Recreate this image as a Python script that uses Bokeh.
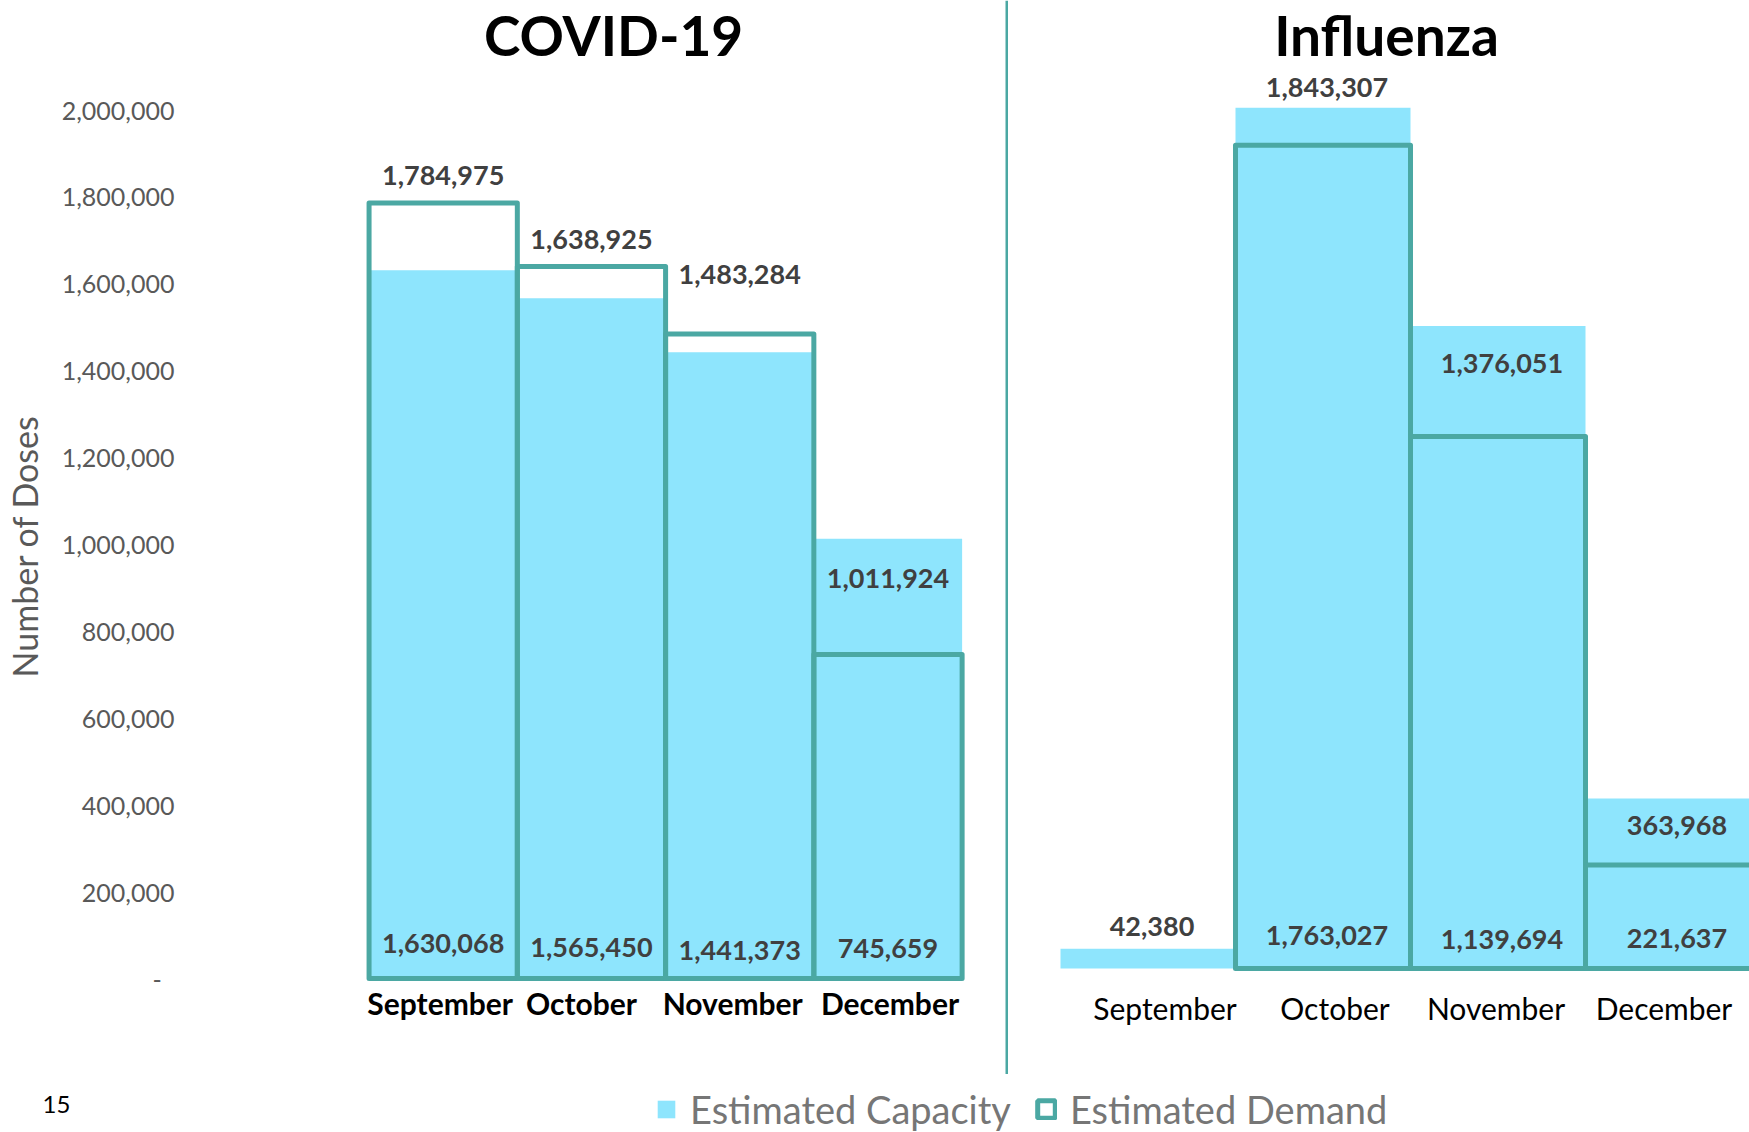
import numpy as np
from bokeh.plotting import figure
from bokeh.models import (Range1d, FixedTicker, NumeralTickFormatter, Span,
                          ColumnDataSource, Legend, LegendItem)
from bokeh.layouts import column, row
from bokeh.embed import file_html
from bokeh.resources import INLINE
from bokeh.core.properties import value

# ---------------- data ----------------
months = ["September", "October", "November", "December"]
covid_capacity = [1630068, 1565450, 1441373, 1011924]
covid_demand = [1784975, 1638925, 1483284, 745659]
flu_capacity = [42380, 1843307, 1376051, 363968]
flu_demand = [None, 1763027, 1139694, 221637]
y_ticks = [0, 200000, 400000, 600000, 800000, 1000000,
           1200000, 1400000, 1600000, 1800000, 2000000]
panel_titles = ["COVID-19", "Influenza"]
y_axis_title = "Number of Doses"
legend_labels = ["Estimated Capacity", "Estimated Demand"]
slide_number = "15"

# ---------------- style ----------------
FONT = "Lato"
FILL = "#8EE5FD"
TEAL = "#4BA8A3"
VAL_TXT = "#404040"
AX_TXT = "#595959"
LEG_TXT = "#767676"

H_TOP = 1074   # height of the two chart panels
H_LEG = 58     # legend strip


def top_bottom(cap, dem):
    cap = np.array(cap, dtype=float)
    dem = np.array(dem, dtype=float)
    top, bot = [], []
    for c, d in zip(cap, dem):
        vals = [v for v in (c, d) if not np.isnan(v)]
        top.append(max(vals))
        bot.append(min(vals) if len(vals) > 1 else np.nan)
    return np.array(top), np.array(bot)


def draw_panel(p, cap, dem, title, title_dx, top_off, bot_off, month_dy,
               month_dx, month_style, month_size, label_dx):
    xs = list(range(len(months)))
    left = [x - 0.5 for x in xs]
    right = [x + 0.5 for x in xs]
    capv = np.array(cap, dtype=float)
    demv = np.array(dem, dtype=float)
    p.quad(left=left, right=right, bottom=0, top=capv,
           fill_color=FILL, line_color=None)
    p.quad(left=left, right=right, bottom=0, top=demv,
           fill_color=None, line_color=TEAL, line_width=5, line_join="round")

    top, bot = top_bottom(cap, dem)
    src_top = ColumnDataSource(dict(x=xs, y=top, t=[f"{int(v):,}" for v in top],
                                    off=top_off))
    p.text(x="x", y="y", text="t", y_offset="off", x_offset=label_dx,
           source=src_top,
           text_font=value(FONT), text_font_style="bold", text_font_size="27px",
           text_color=VAL_TXT, text_align="center", text_baseline="middle")
    bx = [x for x, v in zip(xs, bot) if not np.isnan(v)]
    bo = [o for o, v in zip(bot_off, bot) if not np.isnan(v)]
    bv = [v for v in bot if not np.isnan(v)]
    src_bot = ColumnDataSource(dict(x=bx, y=[0] * len(bx),
                                    t=[f"{int(v):,}" for v in bv], off=bo))
    p.text(x="x", y="y", text="t", y_offset="off", x_offset=label_dx,
           source=src_bot,
           text_font=value(FONT), text_font_style="bold", text_font_size="27px",
           text_color=VAL_TXT, text_align="center", text_baseline="middle")

    src_m = ColumnDataSource(dict(x=xs, y=[0] * len(xs), t=months, dx=month_dx))
    p.text(x="x", y="y", text="t", x_offset="dx", y_offset=month_dy,
           source=src_m,
           text_font=value(FONT), text_font_style=month_style,
           text_font_size=month_size, text_color="black",
           text_align="center", text_baseline="middle")

    p.text(x=[(len(xs) - 1) / 2], y=[p.y_range.end], text=[title],
           x_offset=title_dx, y_offset=34,
           text_font=value(FONT), text_font_style="bold", text_font_size="55px",
           text_color="black", text_align="center", text_baseline="alphabetic")


def bare_figure(w, h, xr, yr, **kw):
    p = figure(width=w, height=h, x_range=xr, y_range=yr,
               output_backend="svg", toolbar_location=None,
               x_axis_location=None,
               min_border_right=0, min_border_top=0, min_border_bottom=0,
               outline_line_color=None, background_fill_color="white",
               border_fill_color="white", **kw)
    p.grid.visible = False
    return p


# ---------------- COVID panel ----------------
W_A, L_A = 1008, 188
bar_l, bar_r = 367.0, 961.5
unitA = (bar_r - bar_l) / len(months)
xA0 = -0.5 - (bar_l - L_A) / unitA
xA1 = (len(months) - 0.5) + (W_A - bar_r) / unitA
baseA, pxmA = 978.0, 434.5 / 1e6
pA = bare_figure(W_A, H_TOP, Range1d(xA0, xA1),
                 Range1d(-(H_TOP - baseA) / pxmA, baseA / pxmA),
                 y_axis_location="left", min_border_left=L_A)
ax = pA.yaxis[0]
ax.ticker = FixedTicker(ticks=y_ticks)
ax.formatter = NumeralTickFormatter(format="0,0")
ax.major_label_overrides = {0: "-\u00a0\u00a0"}
ax.axis_line_color = None
ax.major_tick_line_color = None
ax.minor_tick_line_color = None
ax.major_tick_out = 0
ax.major_tick_in = 0
ax.major_label_standoff = 16
ax.major_label_text_font = FONT
ax.major_label_text_font_size = "25px"
ax.major_label_text_color = AX_TXT
ax.axis_label = y_axis_title + "\u00a0\u00a0"
ax.axis_label_text_font = FONT
ax.axis_label_text_font_size = "34px"
ax.axis_label_text_font_style = "normal"
ax.axis_label_text_color = AX_TXT
ax.axis_label_standoff = 14

draw_panel(pA, covid_capacity, covid_demand, panel_titles[0], -52,
           top_off=[-27, -27, -60, 40], bot_off=[-35, -31, -28, -30],
           month_dy=24, month_dx=[-3, -10, -7, 2],
           month_style="bold", month_size="30px", label_dx=0)

divider_x = xA0 + (1006.5 - L_A) / unitA
pA.add_layout(Span(location=divider_x, dimension="height",
                   line_color=TEAL, line_width=3))

# ---------------- Influenza panel ----------------
W_B = 741
unitB, sep_left = 175.0, 52.0
xB0 = -0.5 - sep_left / unitB
xB1 = xB0 + W_B / unitB
baseB, pxmB = 968.0, 466.9 / 1e6
pB = bare_figure(W_B, H_TOP, Range1d(xB0, xB1),
                 Range1d(-(H_TOP - baseB) / pxmB, baseB / pxmB),
                 y_axis_location=None, min_border_left=0)
draw_panel(pB, flu_capacity, flu_demand, panel_titles[1], -24,
           top_off=[-22, -20, 37, 27], bot_off=[0, -33, -29, -30],
           month_dy=39, month_dx=[17, 12, -2, -9],
           month_style="normal", month_size="30px", label_dx=4)

# ---------------- legend strip ----------------
W_L = W_A + W_B
pL = bare_figure(W_L, H_LEG, Range1d(0, W_L), Range1d(0, H_LEG),
                 y_axis_location=None, min_border_left=0)
# legend proxies (placed outside the visible range)
r1 = pL.quad(left=[-60], right=[-50], top=[-50], bottom=[-60],
             fill_color=FILL, line_color=None)
r2 = pL.quad(left=[-60], right=[-50], top=[-50], bottom=[-60],
             fill_color=None, line_color=TEAL, line_width=5)
leg = Legend(items=[LegendItem(label=legend_labels[0], renderers=[r1]),
                    LegendItem(label=legend_labels[1], renderers=[r2])],
             orientation="horizontal", location=(655, 0),
             glyph_width=22, glyph_height=22, label_standoff=13, spacing=24,
             padding=0, margin=0, border_line_color=None,
             background_fill_alpha=0,
             label_text_font=FONT, label_text_font_size="38px",
             label_text_color=LEG_TXT)
pL.add_layout(leg)
pL.text(x=[42], y=[28], text=[slide_number], text_font=value(FONT),
        text_font_size="24px", text_color="black",
        text_align="left", text_baseline="middle")

layout = column(row(pA, pB, spacing=0), pL, spacing=0)
open("out.html", "w").write(file_html(layout, INLINE))
